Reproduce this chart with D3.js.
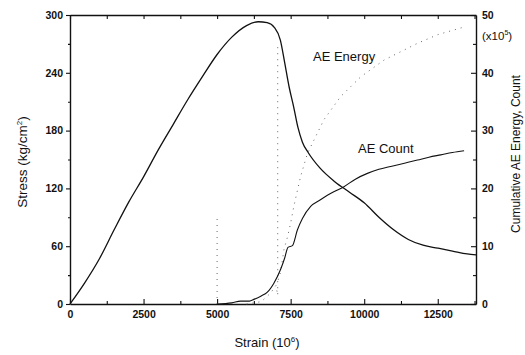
<!DOCTYPE html>
<html lang="en">
  <head>
    <meta charset="UTF-8" />
    <title>Stress and AE vs Strain</title>
    <script src="https://d3js.org/d3.v7.min.js"></script>
    <style>
      body { margin: 0; background: #fff; }
      text { font-family: "Liberation Sans", Arial, sans-serif; fill: #111; }
      .tick text { font-weight: bold; font-size: 10.5px; }
      .domain { stroke: #111; stroke-width: 1.4; }
      .tick line { stroke: #111; stroke-width: 1.1; }
    </style>
  </head>
  <body>
    <svg id="chart" width="525" height="355"></svg>

    <script>
      // strain (10^-6) vs stress (kg/cm2)
      const stressStrain = [0, 500, 1000, 1500, 2000, 2500, 3000, 3500, 4000, 4500, 5000, 5500, 6000, 6400, 6700, 6950, 7150, 7300, 7450, 7600, 7750, 7900, 8100, 8500, 9000, 9500, 10000, 10500, 11000, 11500, 12000, 12500, 13000, 13500, 13800];
      const stressValues = [0, 22, 47, 77, 106, 132, 160, 186, 212, 236, 259, 277, 289, 293, 292, 287, 274, 250, 225, 205, 183, 168, 157, 141, 127, 116, 105, 90, 77, 67, 61, 58, 55, 52, 51];

      // cumulative AE energy (x10^5); null = break in the trace
      const energyStrain = [5000, 5000, 5000, 6000, 6500, 6820, 7000, 7060, 7060, 7060, 7080, 7160, 7272, 7388, 7500, 7612, 7840, 8068, 8238, 8633, 9200, 9881, 10673, 11810, 12500, 13450];
      const energyValues = [0, 15, null, 0, 0.4, 1.9, 3.2, 1.5, 45, null, 4.2, 5.6, 9.4, 11.5, 14, 17, 22.1, 26, 27.8, 31.9, 35.9, 39.3, 42.2, 45.1, 46.6, 48];

      // cumulative AE count (x10^5)
      const countStrain = [5000, 5500, 5800, 6100, 6250, 6500, 6700, 6930, 7160, 7300, 7408, 7560, 7728, 7900, 8180, 8500, 8748, 9000, 9313, 9700, 10109, 10500, 10901, 11400, 11810, 12200, 12602, 13000, 13395];
      const countValues = [0, 0.2, 0.5, 0.5, 0.8, 1.4, 2, 3.6, 6, 8, 9.8, 10.1, 12.8, 14.8, 16.9, 18, 18.8, 19.5, 20.3, 21.6, 22.6, 23.3, 23.8, 24.4, 24.9, 25.4, 25.8, 26.2, 26.5];

      const xTicks = [0, 2500, 5000, 7500, 10000, 12500];
      const leftTicks = [0, 60, 120, 180, 240, 300];
      const rightTicks = [0, 10, 20, 30, 40, 50];

      const svg = d3.select("#chart"),
        pLeft = 70,
        pRight = 476,
        pTop = 15,
        pBottom = 304;

      const x = d3.scaleLinear().domain([0, 13800]).range([pLeft, pRight]);
      const yS = d3.scaleLinear().domain([0, 300]).range([pBottom, pTop]);
      const yC = d3.scaleLinear().domain([0, 50]).range([pBottom, pTop]);

      const xMinor = d3.range(1250, 13800, 2500);
      const sMinor = d3.range(30, 300, 60);
      const cMinor = d3.range(5, 50, 10);
      const fmt = d3.format("d");

      // Axes: bottom / top / right ticks point inward, left outward
      svg.append("g")
        .attr("transform", `translate(0,${pBottom})`)
        .call(d3.axisBottom(x).tickValues(xTicks).tickFormat(fmt).tickSize(-5).tickPadding(7).tickSizeOuter(0));
      svg.append("g")
        .attr("transform", `translate(0,${pBottom})`)
        .call(d3.axisBottom(x).tickValues(xMinor).tickSize(-3).tickFormat("").tickSizeOuter(0))
        .select(".domain").remove();

      svg.append("g")
        .attr("transform", `translate(0,${pTop})`)
        .call(d3.axisTop(x).tickValues(xTicks.concat(xMinor)).tickSize(-4).tickFormat("").tickSizeOuter(0));

      svg.append("g")
        .attr("transform", `translate(${pLeft},0)`)
        .call(d3.axisLeft(yS).tickValues(leftTicks).tickFormat(fmt).tickSize(4).tickPadding(3).tickSizeOuter(0));
      svg.append("g")
        .attr("transform", `translate(${pLeft},0)`)
        .call(d3.axisLeft(yS).tickValues(sMinor).tickSize(2).tickFormat("").tickSizeOuter(0))
        .select(".domain").remove();

      svg.append("g")
        .attr("transform", `translate(${pRight},0)`)
        .call(d3.axisRight(yC).tickValues(rightTicks).tickFormat(fmt).tickSize(-5).tickPadding(6).tickSizeOuter(0));
      svg.append("g")
        .attr("transform", `translate(${pRight},0)`)
        .call(d3.axisRight(yC).tickValues(cMinor).tickSize(-3).tickFormat("").tickSizeOuter(0))
        .select(".domain").remove();

      // Lines
      const stressLine = d3.line().curve(d3.curveMonotoneX).x((d, i) => x(stressStrain[i])).y((d) => yS(d));
      const energyLine = d3.line()
        .defined((d) => d !== null)
        .x((d, i) => x(energyStrain[i]))
        .y((d) => yC(d));
      const countLine = d3.line().curve(d3.curveMonotoneX).x((d, i) => x(countStrain[i])).y((d) => yC(d));

      svg.append("path")
        .datum(energyValues)
        .attr("d", energyLine)
        .attr("fill", "none")
        .attr("stroke", "#666")
        .attr("stroke-width", 1)
        .attr("stroke-dasharray", "1,5");

      svg.append("path")
        .datum(stressValues)
        .attr("d", stressLine)
        .attr("fill", "none")
        .attr("stroke", "#111")
        .attr("stroke-width", 1.3);

      svg.append("path")
        .datum(countValues)
        .attr("d", countLine)
        .attr("fill", "none")
        .attr("stroke", "#111")
        .attr("stroke-width", 1.1);

      // Labels
      svg.append("text")
        .attr("x", 313).attr("y", 61)
        .style("font-size", "13px")
        .text("AE Energy");
      svg.append("text")
        .attr("x", 358).attr("y", 153)
        .style("font-size", "13px")
        .text("AE Count");

      const xt = svg.append("text")
        .attr("x", 267).attr("y", 347)
        .attr("text-anchor", "middle")
        .style("font-size", "13px")
        .text("Strain (10");
      xt.append("tspan").attr("dy", -5).style("font-size", "8px").text("6");
      xt.append("tspan").attr("dy", 5).text(")");

      const yt = svg.append("text")
        .attr("transform", "translate(27,162) rotate(-90)")
        .attr("text-anchor", "middle")
        .style("font-size", "13.5px")
        .text("Stress (kg/cm");
      yt.append("tspan").attr("dy", -5).style("font-size", "8px").text("2");
      yt.append("tspan").attr("dy", 5).text(")");

      svg.append("text")
        .attr("transform", "translate(520,154) rotate(-90)")
        .attr("text-anchor", "middle")
        .style("font-size", "12px")
        .text("Cumulative AE Energy, Count");

      const unit = svg.append("text")
        .attr("x", 482).attr("y", 40)
        .style("font-size", "11.5px")
        .text("(x10");
      unit.append("tspan").attr("dy", -5).style("font-size", "7px").text("5");
      unit.append("tspan").attr("dy", 5).text(")");
    </script>
  </body>
</html>
